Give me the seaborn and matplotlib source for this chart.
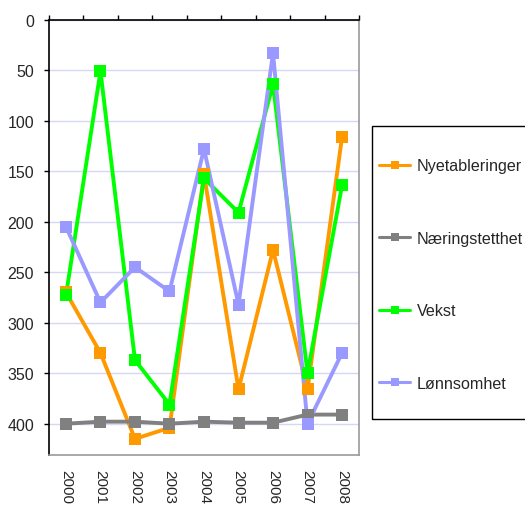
import matplotlib
matplotlib.use("Agg")
import matplotlib.pyplot as plt
import matplotlib.patches as mpatches
from matplotlib.ticker import FixedLocator
import seaborn as sns
import pandas as pd

years = ["2000", "2001", "2002", "2003", "2004", "2005", "2006", "2007", "2008"]
nyetableringer = [270, 330, 415, 404, 153, 366, 228, 366, 116]
naeringstetthet = [400, 398, 398, 400, 398, 399, 399, 391, 391]
vekst = [273, 51, 337, 381, 157, 191, 64, 350, 164]
lonnsomhet = [205, 280, 245, 269, 128, 282, 33, 400, 330]

series_names = ["Nyetableringer", "Næringstetthet", "Vekst", "Lønnsomhet"]
series_vals = [nyetableringer, naeringstetthet, vekst, lonnsomhet]
colors = ["#FF9900", "#808080", "#00FF00", "#9999FF"]

rows = []
for name, vals in zip(series_names, series_vals):
    for i, v in enumerate(vals):
        rows.append({"pos": i, "year": years[i], "value": v, "series": name})
df = pd.DataFrame(rows)

sns.set_theme(style="white")
plt.rcParams["font.family"] = ["Liberation Sans", "DejaVu Sans"]

fig = plt.figure(figsize=(5.25, 5.06), dpi=100)
ax = fig.add_axes([48.7 / 525, 1 - 455.7 / 506, (359.3 - 48.7) / 525, (455.7 - 20.7) / 506])

for name, col in zip(series_names, colors):
    sub = df[df["series"] == name]
    sns.lineplot(data=sub, x="pos", y="value", color=col, linewidth=2.8,
                 ax=ax, legend=False, sort=False, zorder=2)
    sns.scatterplot(data=sub, x="pos", y="value", color=col, marker="s", s=82,
                    linewidth=0, ax=ax, legend=False, zorder=3)

ax.set_xlim(-0.5, 8.5)
ax.set_ylim(430.7, 0)
ax.set_yticks(range(0, 401, 50))
ax.set_yticklabels([str(v) for v in range(0, 401, 50)], fontsize=11.5)
ax.yaxis.grid(True, color="#D6D6F5", linewidth=1)
ax.xaxis.grid(False)
ax.set_axisbelow(True)

ax.set_xticks(range(len(years)))
ax.set_xticklabels(years, rotation=270, fontsize=11, va="top", ha="center")
ax.xaxis.set_minor_locator(FixedLocator([i - 0.5 for i in range(len(years) + 1)]))
ax.tick_params(axis="x", which="major", bottom=True, top=False, length=0, pad=10)
ax.tick_params(axis="x", which="minor", bottom=False, top=True, length=3.6, width=1,
               color="black", direction="out")
ax.tick_params(axis="y", which="major", left=True, length=3.8, width=1, color="black",
               direction="out", pad=6.8)
ax.set_xlabel("")
ax.set_ylabel("")

for s in ["left", "top"]:
    ax.spines[s].set_color("black")
    ax.spines[s].set_linewidth(1.2)
for s in ["bottom", "right"]:
    ax.spines[s].set_color("#999999")
    ax.spines[s].set_linewidth(1.2)

# legend frame
rect = mpatches.Rectangle((372 / 525, 1 - 420 / 506), (527 - 372) / 525, (420 - 126.7) / 506,
                          transform=fig.transFigure, fill=False, edgecolor="black",
                          linewidth=1, zorder=1)
fig.patches.append(rect)

handles = [plt.Line2D([], [], color=c, linewidth=2.2, marker="s", markersize=6,
                      markeredgewidth=0) for c in colors]
leg = fig.legend(handles, series_names, loc="upper left",
                 bbox_to_anchor=(379 / 525, 1 - 159.3 / 506), frameon=False,
                 fontsize=11.6, labelspacing=3.57, handlelength=1.93,
                 handletextpad=0.43, borderpad=0, borderaxespad=0)

fig.savefig("out.png", dpi=100)
